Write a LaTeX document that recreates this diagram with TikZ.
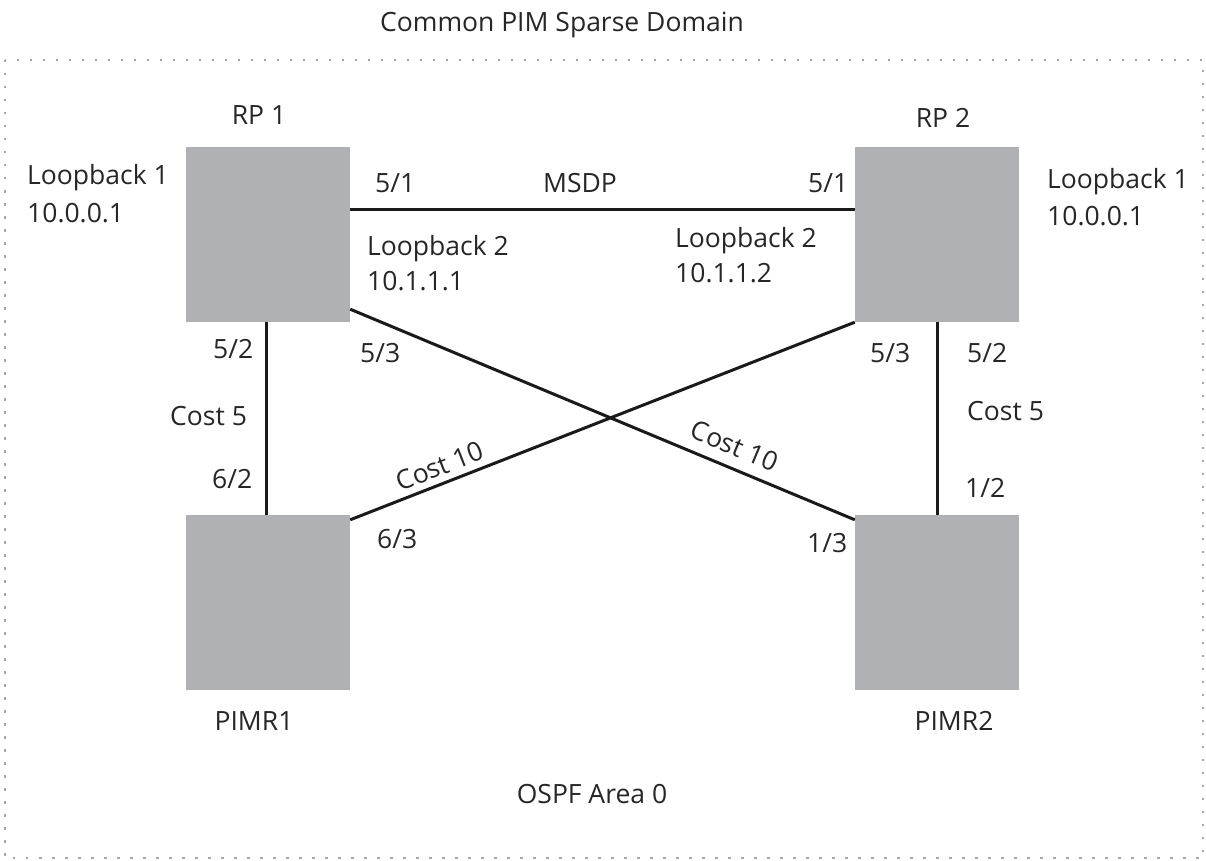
\documentclass[tikz,border=0pt]{standalone}
\usepackage{fontspec}
\setmainfont{Open Sans}
\definecolor{boxgray}{HTML}{B0B1B4}
\definecolor{txt}{HTML}{262626}
\definecolor{ln}{HTML}{1A1A1A}
\begin{document}
\begin{tikzpicture}[x=1pt,y=-1pt,
  router/.style={fill=boxgray, draw=none, minimum width=164pt, minimum height=175pt, inner sep=0pt},
  lbl/.style={inner sep=0pt, text=txt, font=\fontsize{26.5}{37}\selectfont},
  lblw/.style={lbl, anchor=base west},
  lblc/.style={lbl, anchor=base},
  link/.style={draw=ln, line width=3pt},
  border/.style={draw=gray!70, line width=1.4pt, dash pattern=on 2.5pt off 10.5pt}
]
\useasboundingbox (0,0) rectangle (1206,861);
\draw[border] (5,60) rectangle (1203,858);
\node[lblc] (title) at (562,32) {Common PIM Sparse Domain};

\node[router] (rp1) at (268,234.5) {};
\node[router] (rp2) at (937,234.5) {};
\node[router] (pimr1) at (268,602.5) {};
\node[router] (pimr2) at (937,602.5) {};

\node[lblc] (rp1l) at (259,125) {RP 1};
\node[lblc] (rp2l) at (943,128) {RP 2};
\node[lblc] (pimr1l) at (254,730) {PIMR1};
\node[lblc] (pimr2l) at (954,730) {PIMR2};
\node[lblc] (ospf) at (592,803) {OSPF Area 0};

\node[lblw] (lb1a) at (27,185) {Loopback 1};
\node[lblw] (ip1a) at (27,222) {10.0.0.1};
\node[lblw] (lb1b) at (1047,188) {Loopback 1};
\node[lblw] (ip1b) at (1047,225) {10.0.0.1};
\node[lblw] (lb2a) at (367,255) {Loopback 2};
\node[lblw] (ip2a) at (367,290) {10.1.1.1};
\node[lblw] (lb2b) at (675,247) {Loopback 2};
\node[lblw] (ip2b) at (675,282) {10.1.1.2};

\draw[link] ([yshift=-63pt]rp1.north east) -- ([yshift=-63pt]rp2.north west);
\draw[link] ([xshift=-2pt]rp1.south) -- ([xshift=-2pt]pimr1.north);
\draw[link] (rp2.south) -- (pimr2.north);
\draw[link] ([yshift=13pt]rp1.south east) -- node[pos=0.745, sloped, above=11pt, lbl, anchor=south] (c10b) {Cost 10} ([yshift=-5pt]pimr2.north west);
\draw[link] ([yshift=-5pt]pimr1.north east) -- node[pos=0.19, sloped, above=6pt, lbl, anchor=south] (c10a) {Cost 10} (rp2.south west);

\node[lblw] (p51a) at (375,192) {5/1};
\node[lblc] (msdp) at (580,192) {MSDP};
\node[lblw] (p51b) at (808,192) {5/1};
\node[lblw] (p52a) at (213,358) {5/2};
\node[lblw] (p53a) at (360,362) {5/3};
\node[lblw] (c5a) at (170,425) {Cost 5};
\node[lblw] (p62) at (212,488) {6/2};
\node[lblw] (p63) at (377,548) {6/3};
\node[lblw] (p53b) at (870,362) {5/3};
\node[lblw] (p52b) at (967,362) {5/2};
\node[lblw] (c5b) at (967,420) {Cost 5};
\node[lblw] (p12) at (965,497) {1/2};
\node[lblw] (p13) at (807,552) {1/3};
\end{tikzpicture}
\end{document}
